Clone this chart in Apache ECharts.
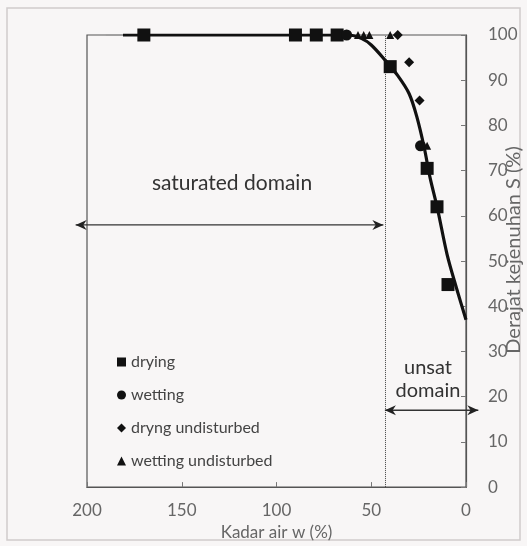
<!DOCTYPE html>
<html>
<head>
<meta charset="utf-8">
<script src="https://cdn.jsdelivr.net/npm/echarts@6/dist/echarts.min.js"></script>
<style>
html,body{margin:0;padding:0;background:#f8f6f6;}
#c{width:527px;height:546px;}
</style>
</head>
<body>
<div id="c"></div>
<script>
// Data (w = Kadar air %, S = Derajat kejenuhan %)
var drying = [[170,100],[90,100],[79,100],[68,100],[40,93],[20.5,70.5],[15.3,62],[9.5,44.8]];
var wetting = [[63,100],[24,75.5]];
var dryingUndisturbed = [[36,100],[30,94],[24.5,85.5]];
var wettingUndisturbed = [[57,100],[54,100],[51,100],[40,100],[20.5,75.5]];
var fitCurve = [[181,100],[62,100],[55,99.2],[50,97.8],[43,94.6],[36,91],[30,87],[26,82],[22,75],[19,68.5],[15,61.5],[10,51.5],[5,44],[0,37]];
var leadLine = [[190,100],[181,100]];
var boundaryW = 42.6;
var satArrow = [[206,58],[43.6,58]];
var unsatArrow = [[42.8,17],[-6.5,17]];
var xTicks = [0,50,100,150,200];
var yTicks = [0,10,20,30,40,50,60,70,80,90,100];

var chart = echarts.init(document.getElementById('c'));
var font = 'Lato, "Open Sans", sans-serif';
var baseGraphic = [
  {type: 'rect', shape: {x: 7, y: 8, width: 513, height: 532}, style: {fill: 'none', stroke: '#d0cccc', lineWidth: 1.5}, silent: true, z: -10},
  {type: 'text', x: 232, y: 183, style: {text: 'saturated domain', fontSize: 21, fill: '#333', align: 'center', verticalAlign: 'middle', fontFamily: font}},
  {type: 'text', x: 428, y: 368, style: {text: 'unsat', fontSize: 20, fill: '#333', align: 'center', verticalAlign: 'middle', fontFamily: font}},
  {type: 'text', x: 428, y: 391, style: {text: 'domain', fontSize: 20, fill: '#333', align: 'center', verticalAlign: 'middle', fontFamily: font}},
  {type: 'text', x: 514, y: 250, rotation: Math.PI/2, style: {text: 'Derajat kejenuhan S (%)', fontSize: 20, fill: '#666', align: 'center', verticalAlign: 'middle', fontFamily: font}}
];
var option = {
  backgroundColor: '#f8f6f6',
  animation: false,
  textStyle: {fontFamily: font},
  grid: {left: 87, right: 61, top: 35, bottom: 58, show: true, borderColor: '#555', borderWidth: 1.2, backgroundColor: 'transparent'},
  xAxis: {
    type: 'value', inverse: true, min: xTicks[0], max: xTicks[xTicks.length-1], interval: 50,
    name: 'Kadar air w (%)', nameLocation: 'middle', nameGap: 35,
    nameTextStyle: {fontSize: 17, color: '#666', fontFamily: font},
    axisLine: {show: true, lineStyle: {color: '#555', width: 1.2}},
    axisTick: {show: true, inside: true, length: 5, lineStyle: {color: '#777'}},
    axisLabel: {fontSize: 17, color: '#666', margin: 15, fontFamily: font},
    splitLine: {show: false}
  },
  yAxis: {
    type: 'value', position: 'right', min: yTicks[0], max: yTicks[yTicks.length-1], interval: 10,
    axisLine: {show: true, lineStyle: {color: '#555', width: 1.2}},
    axisTick: {show: true, inside: true, length: 5, lineStyle: {color: '#777'}},
    axisLabel: {fontSize: 17, color: '#666', margin: 22, fontFamily: font},
    splitLine: {show: false}
  },
  legend: {
    orient: 'vertical', left: 112, top: 349, itemWidth: 9, itemHeight: 9, itemGap: 17,
    data: ['drying','wetting','dryng undisturbed','wetting undisturbed'],
    textStyle: {fontSize: 16, color: '#444', lineHeight: 16, fontFamily: font},
    itemStyle: {color: '#111', opacity: 1}
  },
  graphic: baseGraphic,
  series: [
    {type: 'line', name: 'lead', data: leadLine, symbol: 'none', lineStyle: {color: '#999', width: 1}, z: 1},
    {type: 'line', name: 'fit', data: fitCurve, symbol: 'none', smooth: 0.3, lineStyle: {color: '#111', width: 3.2}, z: 2},
    {type: 'line', name: 'boundary', data: [], symbol: 'none', z: 3,
      markLine: {
        silent: true, animation: false, symbol: ['none','none'], label: {show: false},
        lineStyle: {color: '#444', width: 1, type: 'dotted'},
        data: [{xAxis: boundaryW}]
      }
    },
    {type: 'scatter', name: 'drying', data: drying, symbol: 'rect', symbolSize: 13, itemStyle: {color: '#111', opacity: 1}, z: 5},
    {type: 'scatter', name: 'wetting', data: wetting, symbol: 'circle', symbolSize: 11, itemStyle: {color: '#111', opacity: 1}, z: 5},
    {type: 'scatter', name: 'dryng undisturbed', data: dryingUndisturbed, symbol: 'diamond', symbolSize: 10, itemStyle: {color: '#111', opacity: 1}, z: 5},
    {type: 'scatter', name: 'wetting undisturbed', data: wettingUndisturbed, symbol: 'triangle', symbolSize: 8, itemStyle: {color: '#111', opacity: 1}, z: 5}
  ]
};
chart.setOption(option);

// double-headed arrows placed through the chart's own scales
function arrowGraphics(pts) {
  var a = chart.convertToPixel({gridIndex: 0}, pts[0]);
  var b = chart.convertToPixel({gridIndex: 0}, pts[1]);
  var dx = b[0]-a[0], dy = b[1]-a[1], L = Math.sqrt(dx*dx+dy*dy);
  var ux = dx/L, uy = dy/L, hl = 11, hw = 5;
  function head(tip, dirx, diry) {
    return {type: 'polygon', shape: {points: [
      [tip[0], tip[1]],
      [tip[0]-dirx*hl - diry*hw, tip[1]-diry*hl + dirx*hw],
      [tip[0]-dirx*hl*0.7, tip[1]-diry*hl*0.7],
      [tip[0]-dirx*hl + diry*hw, tip[1]-diry*hl - dirx*hw]
    ]}, style: {fill: '#222'}, z: 10};
  }
  return [
    {type: 'line', shape: {x1: a[0], y1: a[1], x2: b[0], y2: b[1]}, style: {stroke: '#333', lineWidth: 1.4}, z: 10},
    head(a, -ux, -uy),
    head(b, ux, uy)
  ];
}
chart.setOption({graphic: baseGraphic.concat(arrowGraphics(satArrow), arrowGraphics(unsatArrow))}, {replaceMerge: ['graphic']});
</script>
</body>
</html>
